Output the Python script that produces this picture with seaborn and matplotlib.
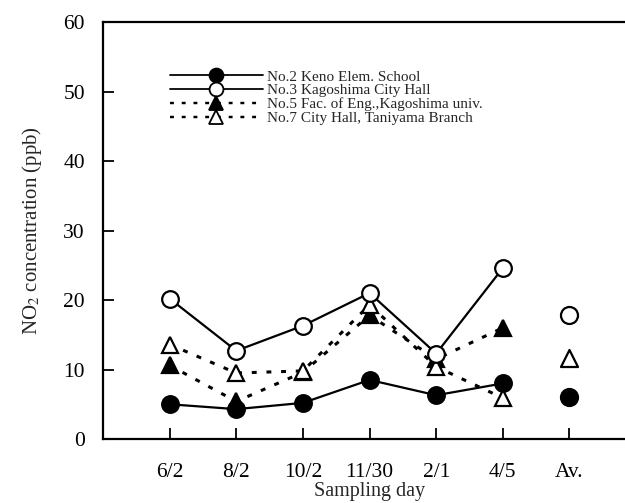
import matplotlib
matplotlib.use("Agg")
import matplotlib.pyplot as plt
from matplotlib.lines import Line2D
import numpy as np
import pandas as pd
import seaborn as sns

# Sampling days plus the overall average column
days = ["6/2", "8/2", "10/2", "11/30", "2/1", "4/5", "Av."]

# NO2 concentration (ppb) per sampling day
no2_keno = [5.0, 4.3, 5.2, 8.5, 6.3, 8.0]
no3_city_hall = [20.2, 12.7, 16.3, 21.0, 12.3, 24.6]
no5_fac_eng = [10.6, 5.4, 9.6, 17.8, 11.5, 16.0]
no7_taniyama = [13.6, 9.5, 9.8, 19.3, 10.4, 5.9]

# Averages shown in the "Av." column
avg_keno = 6.1
avg_city_hall = 17.8
avg_taniyama = 11.6

labels = [
    "No.2 Keno Elem. School",
    "No.3 Kagoshima City Hall",
    "No.5 Fac. of Eng.,Kagoshima univ.",
    "No.7 City Hall, Taniyama Branch",
]

sns.set_theme(style="ticks")
plt.rcParams["font.family"] = ["Liberation Serif", "DejaVu Serif"]
plt.rcParams["mathtext.fontset"] = "stix"

fig = plt.figure(figsize=(6.25, 5.03), dpi=100)
ax = fig.add_axes([0.1648, 0.1272, 0.853, 0.829])

dotted = (0, (1.6, 3.2))
styles = [
    dict(marker="o", mfc="black", ls="-", lw=1.6),
    dict(marker="o", mfc="white", ls="-", lw=1.6),
    dict(marker="^", mfc="black", ls=dotted, lw=2.2),
    dict(marker="^", mfc="white", ls=dotted, lw=2.2),
]
series = [no2_keno, no3_city_hall, no5_fac_eng, no7_taniyama]

x_days = np.arange(len(days) - 1)
draw_order = [0, 2, 3, 1]
for z, i in enumerate(draw_order):
    st = styles[i]
    df = pd.DataFrame({"x": x_days, "y": series[i]})
    sns.lineplot(data=df, x="x", y="y", ax=ax, color="black",
                 linestyle=st["ls"], linewidth=st["lw"],
                 marker=st["marker"], markersize=12,
                 markerfacecolor=st["mfc"], markeredgecolor="black",
                 markeredgewidth=1.6, zorder=3 + z)

# Average points (not joined by lines)
av_x = len(days) - 1
avg_df = pd.DataFrame({
    "x": [av_x, av_x, av_x],
    "y": [avg_keno, avg_city_hall, avg_taniyama],
    "kind": ["keno", "city", "taniyama"],
})
for kind, mk, fc in [("keno", "o", "black"), ("city", "o", "white"),
                     ("taniyama", "^", "white")]:
    sub = avg_df[avg_df["kind"] == kind]
    sns.scatterplot(data=sub, x="x", y="y", ax=ax, marker=mk, s=150,
                    color=fc, edgecolor="black", linewidth=1.6, zorder=8)

ax.set_xlim(-1, 7)
ax.set_ylim(0, 60)
ax.set_xticks(range(len(days)))
ax.set_xticklabels(days)
ax.set_yticks(range(0, 61, 10))
ax.tick_params(axis="x", direction="in", length=8, width=1.3, pad=17,
               labelsize=15.5, colors="black")
ax.tick_params(axis="y", direction="in", length=8, width=1.3, pad=13,
               labelsize=15.5, colors="black")
for side in ["left", "bottom", "top"]:
    ax.spines[side].set_linewidth(1.6)
    ax.spines[side].set_color("black")
ax.spines["right"].set_visible(False)

ax.set_xlabel("Sampling day", fontsize=14.5, labelpad=0)
ax.set_ylabel(r"NO$_{2}$ concentration (ppb)", fontsize=15, labelpad=14)

handles = []
for st in styles:
    handles.append(Line2D([0], [0], color="black", linestyle=st["ls"],
                          linewidth=st["lw"] * 0.8, marker=st["marker"],
                          markersize=10, markerfacecolor=st["mfc"],
                          markeredgecolor="black", markeredgewidth=1.3))
leg = ax.legend(handles, labels, loc="upper left",
                bbox_to_anchor=(0.125, 0.885), frameon=False, fontsize=11,
                handlelength=6.1, handletextpad=0.25, labelspacing=0.0,
                borderpad=0, borderaxespad=0)

fig.savefig("out.png", dpi=100)
